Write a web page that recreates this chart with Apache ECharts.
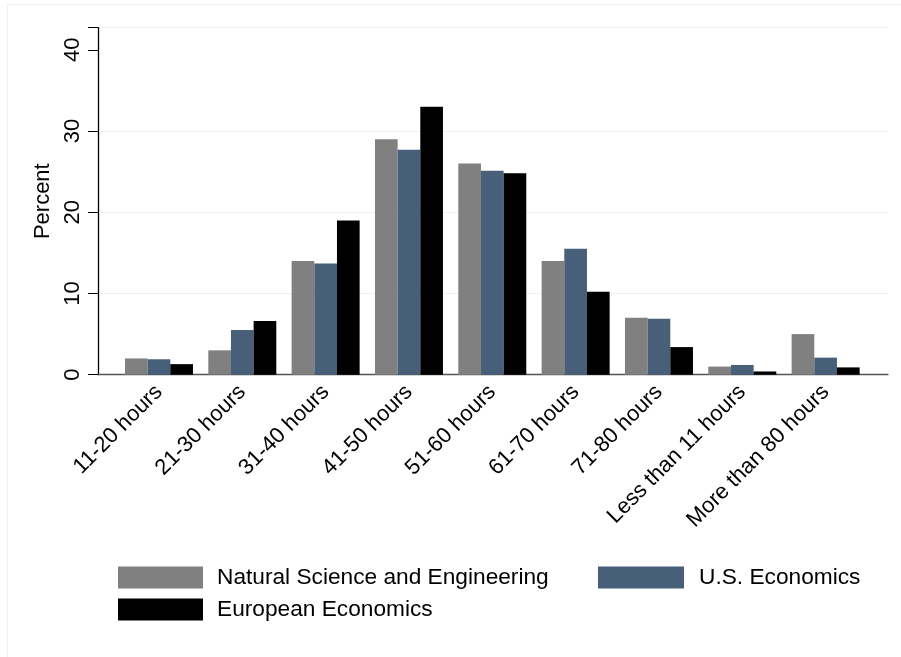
<!DOCTYPE html>
<html>
<head>
<meta charset="utf-8">
<script src="https://cdn.jsdelivr.net/npm/echarts@6/dist/echarts.min.js"></script>
<style>html,body{margin:0;padding:0;background:#fff}#c{width:901px;height:657px}</style>
</head>
<body>
<div id="c"></div>
<script>
const categories = ['11-20 hours','21-30 hours','31-40 hours','41-50 hours','51-60 hours','61-70 hours','71-80 hours','Less than 11 hours','More than 80 hours'];
const natSci = [2.0, 3.0, 14.0, 29.0, 26.0, 14.0, 7.0, 1.0, 5.0];
const usEcon = [1.9, 5.5, 13.7, 27.7, 25.1, 15.5, 6.9, 1.2, 2.1];
const euEcon = [1.3, 6.6, 19.0, 33.0, 24.8, 10.2, 3.4, 0.4, 0.9];
const yTicks = [0, 10, 20, 30, 40];
const seriesNames = ['Natural Science and Engineering', 'U.S. Economics', 'European Economics'];

const FONT = '"Liberation Sans", Helvetica, Arial, sans-serif';
const Y_MAX = 42.73;
const grid0 = {left: 98, top: 27.7, width: 790, height: 347};
const grid1 = {left: 117.3, top: 27.7, width: 750, height: 347};

const chart = echarts.init(document.getElementById('c'), null, {renderer: 'canvas'});
const colors = ['#808080', '#475f78', '#000000'];
const gridColor = '#eaf2f3';

chart.setOption({
  backgroundColor: '#ffffff',
  animation: false,
  textStyle: {fontFamily: FONT},
  graphic: [{
    type: 'rect', z: -10, silent: true,
    shape: {x: 7.5, y: 4.5, width: 1000, height: 1000},
    style: {fill: 'none', stroke: '#eef1f2', lineWidth: 1}
  }],
  grid: [
    Object.assign({containLabel: false}, grid0),
    Object.assign({containLabel: false}, grid1)
  ],
  xAxis: [
    {type: 'value', gridIndex: 0, min: 0, max: 1,
     axisLine: {show: true, lineStyle: {color: '#555555', width: 1.3}},
     axisTick: {show: false}, axisLabel: {show: false}, splitLine: {show: false}},
    {type: 'category', gridIndex: 1, data: categories,
     axisLine: {show: false}, axisTick: {show: false},
     axisLabel: {rotate: 45, fontSize: 22, color: '#000', fontFamily: FONT, margin: 14, interval: 0}}
  ],
  yAxis: [
    {type: 'value', gridIndex: 0, min: 0, max: Y_MAX, interval: 10,
     name: 'Percent', nameLocation: 'middle', nameRotate: 90, nameGap: 41,
     nameTextStyle: {fontSize: 22, color: '#000', fontFamily: FONT},
     axisLine: {show: true, lineStyle: {color: '#000', width: 1.3}},
     axisTick: {show: true, length: 10, lineStyle: {color: '#000', width: 1}},
     axisLabel: {rotate: 90, fontSize: 22, color: '#000', fontFamily: FONT, margin: 14,
                 formatter: v => (yTicks.indexOf(v) >= 0 ? String(v) : '')},
     splitLine: {show: true, lineStyle: {color: [gridColor, gridColor, gridColor, gridColor, 'rgba(0,0,0,0)'], width: 1.2}}},
    {type: 'value', gridIndex: 1, min: 0, max: Y_MAX, interval: 10, show: false}
  ],
  legend: [
    {data: [seriesNames[0]], left: 118, top: 566, padding: 0, itemWidth: 85, itemHeight: 22, icon: 'rect',
     textStyle: {fontSize: 22.7, color: '#000', fontFamily: FONT, padding: [0, 0, 0, 9]}},
    {data: [seriesNames[1]], left: 598, top: 566, padding: 0, itemWidth: 86, itemHeight: 22, icon: 'rect',
     textStyle: {fontSize: 22.7, color: '#000', fontFamily: FONT, padding: [0, 0, 0, 10]}},
    {data: [seriesNames[2]], left: 118, top: 598, padding: 0, itemWidth: 85, itemHeight: 22, icon: 'rect',
     textStyle: {fontSize: 22.7, color: '#000', fontFamily: FONT, padding: [0, 0, 0, 9]}}
  ],
  series: [
    {name: seriesNames[0], type: 'bar', xAxisIndex: 1, yAxisIndex: 1, data: natSci,
     itemStyle: {color: colors[0]}, barGap: '0%', barCategoryGap: '18.4%'},
    {name: seriesNames[1], type: 'bar', xAxisIndex: 1, yAxisIndex: 1, data: usEcon,
     itemStyle: {color: colors[1]}, barGap: '0%', barCategoryGap: '18.4%'},
    {name: seriesNames[2], type: 'bar', xAxisIndex: 1, yAxisIndex: 1, data: euEcon,
     itemStyle: {color: colors[2]}, barGap: '0%', barCategoryGap: '18.4%'}
  ]
});
</script>
</body>
</html>
